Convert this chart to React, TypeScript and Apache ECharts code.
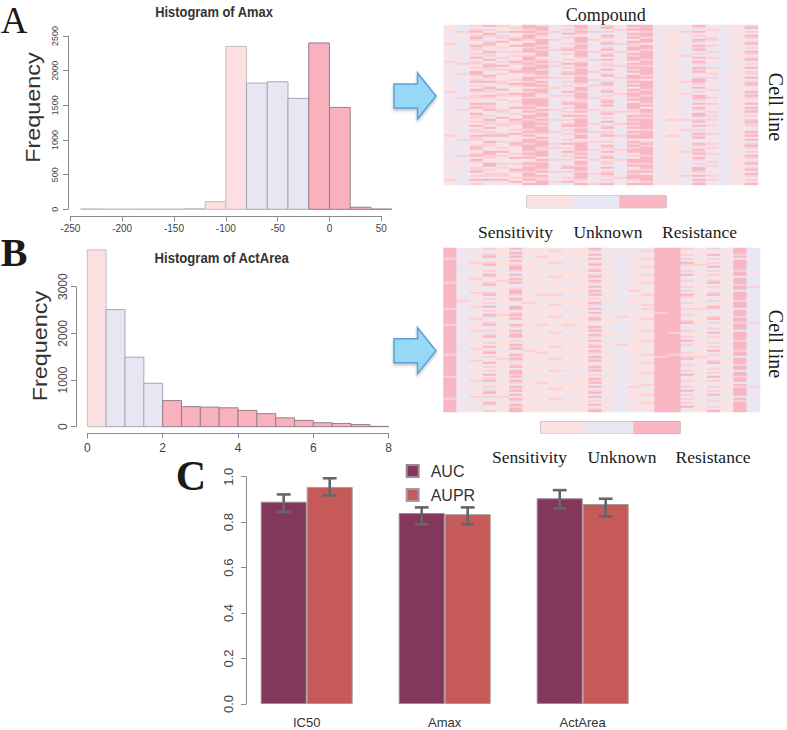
import React, { useEffect, useRef } from "react";
import * as echarts from "echarts";

const SANS = "Liberation Sans";
const SERIF = "Liberation Serif";

// Histogram bins: [from, to, count, class]  class 0 = sensitivity, 1 = unknown, 2 = resistance
const amaxBins = [
  [-240, -220, 6, 0], [-220, -200, 2, 0], [-200, -180, 2, 0], [-180, -160, 3, 0], [-160, -140, 3, 0],
  [-140, -120, 8, 0], [-120, -100, 110, 0], [-100, -80, 2350, 0], [-80, -60, 1820, 1], [-60, -40, 1840, 1],
  [-40, -20, 1600, 1], [-20, 0, 2400, 2], [0, 20, 1470, 2], [20, 40, 30, 2], [40, 60, 3, 2],
];
const actAreaBins = [
  [0, 0.5, 3790, 0], [0.5, 1, 2510, 1], [1, 1.5, 1490, 1], [1.5, 2, 930, 1], [2, 2.5, 560, 2], [2.5, 3, 430, 2],
  [3, 3.5, 420, 2], [3.5, 4, 405, 2], [4, 4.5, 350, 2], [4.5, 5, 280, 2], [5, 5.5, 190, 2], [5.5, 6, 135, 2],
  [6, 6.5, 85, 2], [6.5, 7, 70, 2], [7, 7.5, 45, 2], [7.5, 8, 8, 2],
];

const metrics = ["IC50", "Amax", "ActArea"];
const auc = [0.89, 0.84, 0.905];
const aupr = [0.955, 0.835, 0.88];
const aucLow = [0.845, 0.79, 0.86];
const aucHigh = [0.922, 0.865, 0.941];
const auprLow = [0.918, 0.79, 0.825];
const auprHigh = [0.993, 0.865, 0.903];

const legendScale = [0, 1, 3];
const scaleLabels = ["Sensitivity", "Unknown", "Resistance"];

// Heat map columns, top to bottom: 0 pale pink, 1 lavender, 2 mid pink, 3 rose
const heatA = [
  "0001100102 0011000120 1100010011 0002100110 0110001000 1100120011 0001011000 1001100210",
  "1112101101 1100111012 1011210111 0110112101 1120110011 0111101210 1101121011 1011011101",
  "2023023200 3220203022 0203320230 2032022003 2300322020 3022032200 2320230320 0223020302",
  "3120321123 2013221302 3221032130 1322032013 2231021322 0312230132 2103322013 3120221310",
  "2002122030 0212002120 3020210022 0130220210 0022103002 2100230120 0203021002 1200220301",
  "0203002300 3002020032 0023000203 2000320020 0300200322 0020300023 2000203002 0032002030",
  "3323233203 3233023323 2333203323 3032332333 2323033233 3323230332 3332323023 2332332303",
  "2332320333 2323330232 3323323032 3233202333 3032332323 2333203233 3223330323 3323032233",
  "1102110210 1121011021 2101102110 0211120101 1021101211 0112101102 1210110211 0112011021",
  "2021302102 0230210203 1202302120 2103021023 0212031202 3021200213 0203120210 2302102031",
  "3323203332 3323332023 3233323332 0332333223 3323032333 3233233023 3332323033 2332333203",
  "1012110201 1102011210 0112010211 2010112101 1021011102 0112101020 1120110210 1011201012",
  "2302132023 1230231302 2130230123 2023120232 3012302131 2302230120 3213023022 1302320213",
  "1020110012 1102011001 2011012010 1100201101 0102110012 0110120101 1020011201 1101002110",
  "3230323032 2330323303 2323033232 3032332303 3322032323 2303233032 3233020332 3023233203",
  "3332332330 3323333233 2333323033 3323323332 3033232333 3323333023 2333323332 3323033323",
  "1011010110 1101011010 0110110101 1010011101 0110101011 1011010010 1101101011 0101101100",
  "0000000000 0000000000 0000000000 0000000000 0000000200 0000020000 0000000000 0000000000",
  "1012101101 0110120110 1101011020 1101201011 0110110201 1021011101 0112010110 1101021101",
  "3213021321 3231213032 1323012332 1302133213 0321331231 3021323103 2132303212 1332031323",
  "1021002210 2012102001 1200212010 0121002102 1002120210 2001210012 0210210021 2100120201",
  "1110111011 1011111011 1110101111 0111011101 1101111010 1111011101 1011110111 0111101111",
  "0000100000 0010000001 0000000100 0010000000 0000010000 1000000010 0000100000 0001000000",
  "2312032123 0213202312 1302213023 2103232013 0323120232 2013230312 3202132023 1230321203",
];
const heatB = [
  "3333323333 3333333233 3333333333 2333333323 3333333333 3332333333 3333233333 3333323333 33",
  "1011101011 1110110101 1101112011 0111101110 1101011011 1110110111 0111011101 1011110111 01",
  "0010100201 0001020010 1020001002 0100020100 0201000100 2000102010 0010002100 1000201001 00",
  "2102310231 0213201230 1023120213 1203210231 0212301203 1230210312 0213023102 1230210321 02",
  "0000100000 1000002000 0100000010 0002000010 0000100000 0100020000 0010000100 0000200010 00",
  "3132313023 3213132301 2332132013 3123231032 1323302132 3103232123 1332303213 2313032132 33",
  "0000100000 0001000000 0100000200 0000010000 0000000100 0200000001 0000100000 0000001000 00",
  "0100200010 0010000100 0002001000 1000100020 0100001000 0020100010 0001000200 1000100001 00",
  "0200000201 0000200000 0102000020 0000200100 0020000002 0010020000 0200001000 2000020010 00",
  "1000100100 0100001001 0010100001 0100010020 0101000100 1001000010 0100100100 0001010001 00",
  "0000001000 0100000000 0000100000 0010000001 0000010000 0000000100 1000000000 0100000100 00",
  "3213031230 2312303213 0323120321 3130232103 2313203123 0321323013 2312032313 0231302130 23",
  "0100100010 1000100100 0010001010 0100100001 1000010100 0100100010 0010100001 0100010100 10",
  "1101110111 1011101110 1101111011 0110211101 1110111021 1011101110 1101110111 1011011101 11",
  "0100000100 1000010000 0200100001 0010000100 0100001000 0001000100 1000100002 0100001000 10",
  "0210020102 0012000210 1002001020 2010020001 0210002010 0102001200 0021001020 1002010200 01",
  "3333333333 3333333333 3333333333 3323333333 3333333333 3333233333 3333333333 3333333333 33",
  "3333333333 3333333333 3333333333 3333333333 3323333333 3332333333 3333333333 3333333333 33",
  "2102120321 0213012102 1203201210 2012102310 1200213021 0120230121 0213012012 1302120213 01",
  "0010100020 0100010100 0001000100 2000100001 0100010000 1000200100 0010001000 1000100100 00",
  "2103120213 1202102312 0123012103 2110231201 2031201212 0312102301 2120312012 0213012102 13",
  "0100010100 1001000010 0100100001 0010010100 1000010010 0100100001 0010100100 0100010010 00",
  "3332313333 3233133323 3133332333 1333233233 3133332333 3233133323 3133233132 3333132333 33",
  "1111011111 1101111112 1111101111 1011111211 1110111111 0111111011 1111101112 1110111101 11",
];

const columnCells = (cols: string[]) => {
  const out: number[][] = [];
  cols.forEach((col, x) => {
    col.replace(/ /g, "").split("").forEach((c, y) => out.push([x, y, Number(c)]));
  });
  return out;
};
const indexNames = (n: number) => Array.from({ length: n }, (_, i) => String(i));
const rowCount = (cols: string[]) => cols[0].replace(/ /g, "").length;

const binFill = ["#FCE0E1", "#E7E6F3", "#F8B1BD"];
const binEdge = ["#c6bcbf", "#a8a6b4", "#94808a"];

const renderBin = (_p: any, api: any) => {
  const a = api.coord([api.value(0), api.value(2)]);
  const b = api.coord([api.value(1), 0]);
  const k = api.value(3);
  return {
    type: "rect",
    shape: { x: a[0], y: a[1], width: b[0] - a[0], height: b[1] - a[1] },
    style: { fill: binFill[k], stroke: binEdge[k], lineWidth: 1 },
  };
};

const renderErr = (dir: number) => (_p: any, api: any) => {
  const band = api.size([1, 0])[0];
  const lo = api.coord([api.value(0), api.value(1)]);
  const hi = api.coord([api.value(0), api.value(2)]);
  const x = lo[0] + (dir * band) / 6;
  const cap = band / 20;
  const style = { stroke: "#666666", lineWidth: 2.6, fill: "none" };
  return {
    type: "group",
    children: [
      { type: "line", shape: { x1: x, y1: lo[1], x2: x, y2: hi[1] }, style },
      { type: "line", shape: { x1: x - cap, y1: lo[1], x2: x + cap, y2: lo[1] }, style },
      { type: "line", shape: { x1: x - cap, y1: hi[1], x2: x + cap, y2: hi[1] }, style },
    ],
  };
};

const valueAxisBase = {
  axisLine: { show: true, onZero: false, lineStyle: { color: "#8c8c8c", width: 1 } },
  axisTick: { show: true, length: 5, lineStyle: { color: "#8c8c8c", width: 1 } },
  splitLine: { show: false },
};

const hiddenCat = (data: string[], gridIndex: number, inverse = false) => ({
  type: "category" as const,
  gridIndex,
  data,
  inverse,
  show: false,
});

const label = (text: string, family: string, x: number, y: number, size: number, extra: any = {}) => ({
  type: "text",
  x,
  y,
  silent: true,
  ...extra,
  style: { text, fontFamily: family, fontSize: size, fill: "#1a1a1a", textAlign: "center", textVerticalAlign: "middle", ...(extra.style || {}) },
});

const arrow = (cy: number) => ({
  type: "polygon",
  shape: {
    points: [
      [394, cy - 12], [417.5, cy - 12], [417.5, cy - 23], [436, cy], [417.5, cy + 23], [417.5, cy + 12], [394, cy + 12],
    ],
  },
  style: { fill: "#96D9F6", stroke: "#5C9DD6", lineWidth: 1.5, shadowBlur: 3, shadowColor: "rgba(0,0,0,0.25)", shadowOffsetY: 2 },
});

export default function App() {
  const ref = useRef<HTMLDivElement>(null);
  useEffect(() => {
    const chart = echarts.init(ref.current!, undefined, { renderer: "svg" });
    const heatColor = ["#FBE2E3", "#E9E7F3", "#F9D0D8", "#F8B7C3"];
    const columnNames = indexNames(24);
    const plain = (v: number) => String(v);
    chart.setOption({
      animation: false,
      backgroundColor: "#ffffff",
      textStyle: { fontFamily: SANS },
      legend: {
        data: [{ name: "AUC", icon: "rect" }, { name: "AUPR", icon: "rect" }],
        orient: "vertical",
        left: 405.7,
        top: 463,
        padding: 0,
        itemWidth: 12,
        itemHeight: 12,
        itemGap: 8,
        selectedMode: false,
        textStyle: { fontFamily: SANS, fontSize: 16, color: "#333", padding: [0, 0, 0, 7] },
      },
      visualMap: {
        show: false,
        type: "piecewise",
        dimension: 2,
        seriesIndex: [2, 3, 4, 5],
        pieces: heatColor.map((color, value) => ({ value, color })),
      },
      grid: [
        { left: 70.3, top: 36, width: 311, height: 173.3 },
        { left: 87.3, top: 286.7, width: 301.4, height: 140 },
        { left: 444, top: 25, width: 314, height: 160 },
        { left: 443.5, top: 248, width: 316.5, height: 164 },
        { left: 526.7, top: 196, width: 139.3, height: 11.7, show: true, borderColor: "#8f8f8f", borderWidth: 1, backgroundColor: "transparent" },
        { left: 540.7, top: 421.7, width: 139.3, height: 11.7, show: true, borderColor: "#8f8f8f", borderWidth: 1, backgroundColor: "transparent" },
        { left: 237.7, top: 476.7, width: 414, height: 227.3 },
      ],
      xAxis: [
        {
          type: "value", gridIndex: 0, min: -250, max: 50, interval: 50, offset: 7, ...valueAxisBase,
          axisLabel: { fontFamily: SANS, fontSize: 10, color: "#444", margin: 7, formatter: plain },
        },
        {
          type: "value", gridIndex: 1, min: 0, max: 8, interval: 2, offset: 6.7, ...valueAxisBase,
          axisLabel: { fontFamily: SANS, fontSize: 12, color: "#444", margin: 9, formatter: plain },
        },
        hiddenCat(columnNames, 2),
        hiddenCat(columnNames, 3),
        hiddenCat(indexNames(3), 4),
        hiddenCat(indexNames(3), 5),
        {
          type: "category", gridIndex: 6, data: metrics,
          axisLine: { show: false }, axisTick: { show: false },
          axisLabel: { fontFamily: SANS, fontSize: 13, color: "#333", margin: 12 },
        },
      ],
      yAxis: [
        {
          type: "value", gridIndex: 0, min: 0, max: 2500, interval: 500, offset: 2.3, ...valueAxisBase,
          axisLabel: { fontFamily: SANS, fontSize: 9, color: "#444", rotate: 90, margin: 9, formatter: plain },
        },
        {
          type: "value", gridIndex: 1, min: 0, max: 3000, interval: 1000, offset: 11.3, ...valueAxisBase,
          axisLabel: { fontFamily: SANS, fontSize: 12, color: "#444", rotate: 90, margin: 7, formatter: plain },
        },
        hiddenCat(indexNames(rowCount(heatA)), 2, true),
        hiddenCat(indexNames(rowCount(heatB)), 3, true),
        hiddenCat(["0"], 4),
        hiddenCat(["0"], 5),
        {
          type: "value", gridIndex: 6, min: 0, max: 1, interval: 0.2, offset: -8.3, ...valueAxisBase,
          axisLabel: { fontFamily: SANS, fontSize: 13, color: "#444", rotate: 90, margin: 11, formatter: (v: number) => v.toFixed(1) },
        },
      ],
      series: [
        { type: "custom", xAxisIndex: 0, yAxisIndex: 0, data: amaxBins, encode: { x: [0, 1], y: 2 }, renderItem: renderBin, silent: true },
        { type: "custom", xAxisIndex: 1, yAxisIndex: 1, data: actAreaBins, encode: { x: [0, 1], y: 2 }, renderItem: renderBin, silent: true, clip: false },
        { type: "heatmap", xAxisIndex: 2, yAxisIndex: 2, data: columnCells(heatA), silent: true, progressive: 0 },
        { type: "heatmap", xAxisIndex: 3, yAxisIndex: 3, data: columnCells(heatB), silent: true, progressive: 0 },
        { type: "heatmap", xAxisIndex: 4, yAxisIndex: 4, data: legendScale.map((v, i) => [i, 0, v]), silent: true },
        { type: "heatmap", xAxisIndex: 5, yAxisIndex: 5, data: legendScale.map((v, i) => [i, 0, v]), silent: true },
        {
          name: "AUC", type: "bar", xAxisIndex: 6, yAxisIndex: 6, data: auc, barWidth: 46, barGap: 0, silent: true,
          itemStyle: { color: "#84375D", borderColor: "#9a8a92", borderWidth: 1 },
        },
        {
          name: "AUPR", type: "bar", xAxisIndex: 6, yAxisIndex: 6, data: aupr, barWidth: 46, barGap: 0, silent: true,
          itemStyle: { color: "#C65A59", borderColor: "#a89a9a", borderWidth: 1 },
        },
        {
          type: "custom", xAxisIndex: 6, yAxisIndex: 6, z: 5, silent: true, encode: { x: 0, y: [1, 2] },
          data: metrics.map((_, i) => [i, aucLow[i], aucHigh[i]]), renderItem: renderErr(-1),
        },
        {
          type: "custom", xAxisIndex: 6, yAxisIndex: 6, z: 5, silent: true, encode: { x: 0, y: [1, 2] },
          data: metrics.map((_, i) => [i, auprLow[i], auprHigh[i]]), renderItem: renderErr(1),
        },
      ],
      graphic: [
        label("A", SERIF, 14, 20, 37),
        label("B", SERIF, 14, 252, 40, { style: { fontWeight: "bold" } }),
        label("C", SERIF, 191, 476, 42, { style: { fontWeight: "bold" } }),
        label("Histogram of Amax", SANS, 214, 12, 15, { scaleX: 0.86, style: { fontWeight: "bold", fill: "#333" } }),
        label("Histogram of ActArea", SANS, 221.7, 258, 15, { scaleX: 0.875, style: { fontWeight: "bold", fill: "#333" } }),
        label("Frequency", SANS, 34, 107.5, 19.5, { rotation: Math.PI / 2, scaleX: 1.2, style: { fill: "#333" } }),
        label("Frequency", SANS, 41, 346, 19.5, { rotation: Math.PI / 2, scaleX: 1.2, style: { fill: "#333" } }),
        label("Compound", SERIF, 605.7, 15, 18),
        label("Cell line", SERIF, 775.5, 107, 20, { rotation: -Math.PI / 2 }),
        label("Cell line", SERIF, 776, 344, 20, { rotation: -Math.PI / 2 }),
        label(scaleLabels[0], SERIF, 515.5, 232, 17.5),
        label(scaleLabels[1], SERIF, 608, 232, 17.5),
        label(scaleLabels[2], SERIF, 699.5, 232, 17.5),
        label(scaleLabels[0], SERIF, 529.5, 457, 17.5),
        label(scaleLabels[1], SERIF, 622, 457, 17.5),
        label(scaleLabels[2], SERIF, 713, 457, 17.5),
        arrow(96),
        arrow(350.7),
      ],
    });
    return () => chart.dispose();
  }, []);
  return <div ref={ref} style={{ position: "absolute", left: 0, top: 0, width: 787, height: 730 }} />;
}
